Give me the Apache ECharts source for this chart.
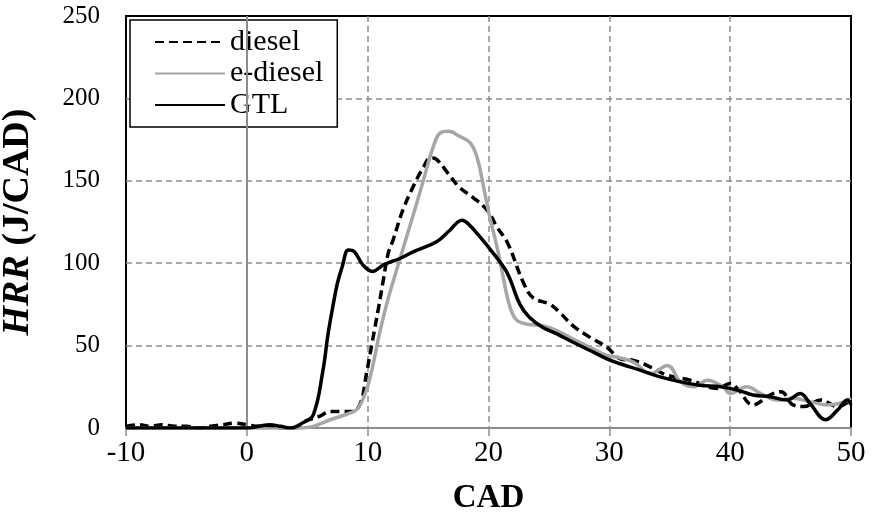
<!DOCTYPE html>
<html>
<head>
<meta charset="utf-8">
<script src="https://cdn.jsdelivr.net/npm/echarts@6/dist/echarts.min.js"></script>
<style>
  html, body { margin: 0; padding: 0; background: #fff; }
  #chart { width: 873px; height: 513px; }
</style>
</head>
<body>
<div id="chart"></div>
<script>
// Heat release rate vs crank angle for three fuels
const dieselCad = [-10,-9,-8,-7,-6,-5,-4,-3,-2,-1,0,1,2,3,4,4.8,6,6.9,7.7,8.7,9.4,9.9,10.4,10.9,11.3,11.7,12.1,12.9,13.8,14.6,15.2,15.7,16.6,17.6,18.7,19.9,20.7,21.6,22.9,23.7,25.1,25.9,27,28.4,29.8,30.9,32,33.4,34.8,36.7,38.9,40,40.6,41.9,43.3,44.2,45.2,46.1,47.5,48.9,50];
const dieselHrr = [1,2,1,2,1,1,0,1,2,3,2,1,1,0,0,4,7,10,10,10,15,33,53,73,90,106,114,132,147,158,164,163,155,146,140,132,122,112,88,79,75,70,62,55,49,42,41,37,32,29,24,27,24,14,20,22,14,13,17,13,17];

const eDieselCad = [-10,-5,0,3,4.5,5.5,6.9,8.5,9.2,9.9,10.4,11,11.6,12.4,13.8,14.6,15.4,16,16.7,17.6,18.5,19.1,19.6,20.1,20.7,21.2,21.6,22,22.4,23.2,24.5,25.7,27,28.4,29.8,30.6,32,33.4,34.8,35.9,37,38.1,39.4,40,41.4,42.5,43.9,45.2,46.6,48,49.1,50];
const eDieselHrr = [0,0,0,-1,0,1,5,9,12,23,37,58,76,96,130,150,170,179,180,177,173,163,146,128,110,92,78,69,65,63,62,59,54,49,44,43,40,33,38,28,25,29,25,21,25,21,17,18,16,14,15,18];

const gtlCad = [-10,-8,-6,-4,-2,0,1,1.9,2.8,3.6,4.6,5.5,6.3,6.7,7.1,7.5,7.9,8.4,8.9,9.6,10.4,11.3,12.7,13.8,15.7,16.8,17.8,18.3,19.3,20.4,21.4,21.8,22.6,23.4,24.5,25.7,27,28.4,29.8,30.9,32.6,34.2,35.9,37.5,39.2,40.6,41.9,43.3,44.7,45.8,46.6,47.9,48.9,49.7,50];
const gtlHrr = [0,0,0,0,0,0,1,2,1,0,3,8,35,56,73,88,98,108,107,99,95,99,103,107,113,120,126,124,116,106,96,90,75,67,61,57,52,47,42,39,35,31,28,26,25,23,20,19,17,21,15,5,11,17,14];

const seriesNames = ['diesel', 'e-diesel', 'GTL'];
const xTicks = { min: -10, max: 50, step: 10 };
const yTicks = { min: 0, max: 250, step: 50 };

const zip = (xs, ys) => xs.map((x, i) => [x, ys[i]]);

const font = '"Liberation Serif", "Times New Roman", serif';
const gridGray = '#8c8c8c';
const dashedGrid = {
  show: true, showMinLine: false, showMaxLine: false,
  lineStyle: { color: gridGray, width: 1.5, type: [6, 4] }
};

const chart = echarts.init(document.getElementById('chart'), null, { renderer: 'canvas' });

chart.setOption({
  animation: false,
  backgroundColor: '#fff',
  grid: {
    left: 126, right: 22, top: 16, bottom: 85,
    outerBoundsMode: 'none', containLabel: false,
    show: true, borderColor: '#000', borderWidth: 2, backgroundColor: 'transparent'
  },
  legend: {
    left: 130, top: 20, orient: 'vertical',
    itemWidth: 70, itemHeight: 14, itemGap: 1.5,
    padding: [7, 14, 7, 24],
    borderColor: '#000', borderWidth: 1.5,
    backgroundColor: '#fff',
    itemStyle: { opacity: 0 },
    textStyle: { fontFamily: font, fontSize: 30, color: '#000', lineHeight: 30 },
    data: seriesNames
  },
  xAxis: {
    type: 'value',
    min: xTicks.min, max: xTicks.max, interval: xTicks.step,
    axisLine: { show: true, onZero: false, lineStyle: { color: gridGray, width: 2 } },
    axisTick: { show: true, inside: false, length: 8, lineStyle: { color: gridGray, width: 1.5 } },
    axisLabel: { fontFamily: font, fontSize: 29, color: '#000', margin: 11 },
    splitLine: dashedGrid,
    name: 'CAD', nameLocation: 'middle', nameGap: 54,
    nameTextStyle: { fontFamily: font, fontSize: 33, fontWeight: 'bold', color: '#000' }
  },
  yAxis: {
    type: 'value',
    min: yTicks.min, max: yTicks.max, interval: yTicks.step,
    axisLine: { show: false },
    axisTick: { show: false },
    axisLabel: { fontFamily: font, fontSize: 25, color: '#000', margin: 26 },
    splitLine: dashedGrid,
    name: '{i|HRR}{b| (J/CAD)}', nameLocation: 'middle', nameGap: 89, nameRotate: 90,
    nameTextStyle: {
      color: '#000',
      rich: {
        i: { fontFamily: font, fontSize: 38, fontWeight: 'bold', fontStyle: 'italic', color: '#000' },
        b: { fontFamily: font, fontSize: 38, fontWeight: 'bold', color: '#000' }
      }
    }
  },
  series: [
    {
      name: seriesNames[0], type: 'line', smooth: 0.4, symbol: 'none',
      data: zip(dieselCad, dieselHrr),
      lineStyle: { color: '#000', width: 3.5, type: [9, 5] },
      itemStyle: { color: '#000' },
      markLine: {
        silent: true, symbol: 'none', label: { show: false },
        lineStyle: { color: gridGray, width: 2, type: 'solid' },
        data: [{ xAxis: 0 }]
      },
      z: 3
    },
    {
      name: seriesNames[1], type: 'line', smooth: 0.4, symbol: 'none',
      data: zip(eDieselCad, eDieselHrr),
      lineStyle: { color: '#a6a6a6', width: 3.5 },
      itemStyle: { color: '#a6a6a6' },
      z: 4
    },
    {
      name: seriesNames[2], type: 'line', smooth: 0.4, symbol: 'none',
      data: zip(gtlCad, gtlHrr),
      lineStyle: { color: '#000', width: 3.5 },
      itemStyle: { color: '#000' },
      z: 5
    }
  ]
});
</script>
</body>
</html>
